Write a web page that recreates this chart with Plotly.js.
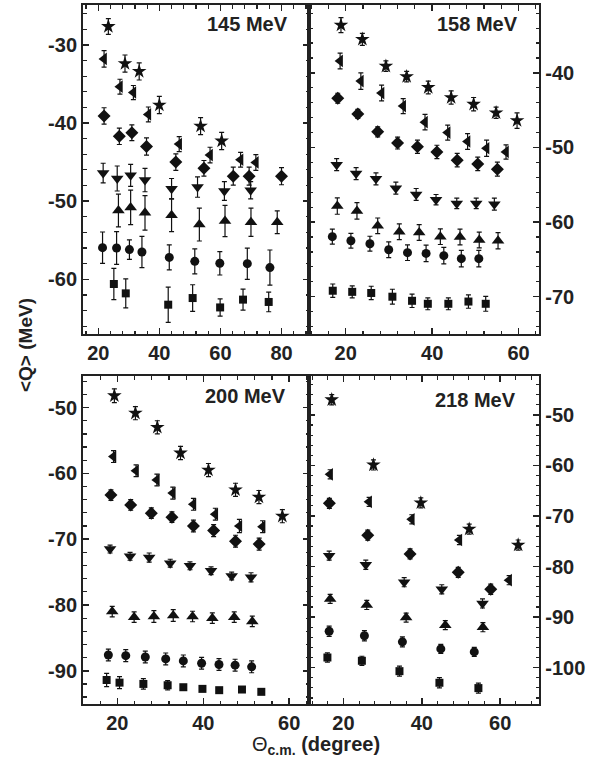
<!DOCTYPE html>
<html>
<head>
<meta charset="utf-8">
<script src="https://cdn.plot.ly/plotly-3.0.1.min.js"></script>
<style>html,body{margin:0;padding:0;background:#fff;}#chart{width:607px;height:762px;}</style>
</head>
<body>
<div id="chart"></div>
<script>
// ---------- 145 MeV ----------
const p145_star_x = [23.3, 28.75, 33.4, 40.0, 53.5, 60.4];
const p145_star_y = [-27.65, -32.4, -33.4, -37.7, -40.4, -42.3];
const p145_star_e = [1.0, 1.1, 1.1, 1.1, 1.1, 1.1];
const p145_ltri_x = [21.9, 27.1, 31.5, 36.4, 46.5, 56.6, 66.6, 71.6];
const p145_ltri_y = [-31.8, -35.35, -36.1, -38.9, -42.7, -44.1, -44.7, -45.05];
const p145_ltri_e = [1.05, 0.95, 0.9, 0.95, 0.95, 1.0, 0.95, 1.0];
const p145_diam_x = [21.9, 26.9, 31.0, 35.8, 45.4, 54.6, 64.2, 69.4, 80.0];
const p145_diam_y = [-39.1, -41.7, -41.25, -43.0, -45.0, -45.8, -46.8, -46.8, -46.8];
const p145_diam_e = [1.05, 1.05, 1.0, 1.1, 1.05, 1.0, 1.15, 1.15, 1.1];
const p145_dtri_x = [21.6, 26.2, 30.6, 35.3, 44.0, 52.5, 61.3, 69.9];
const p145_dtri_y = [-46.4, -47.1, -46.7, -47.3, -48.4, -48.2, -48.7, -48.6];
const p145_dtri_e = [1.25, 1.6, 1.4, 1.5, 1.3, 1.3, 1.2, 1.1];
const p145_utri_x = [26.6, 30.6, 35.3, 44.0, 53.1, 61.5, 70.0, 78.6];
const p145_utri_y = [-51.2, -50.8, -51.5, -51.8, -53.0, -52.55, -52.7, -52.7];
const p145_utri_e = [2.1, 2.2, 2.2, 2.1, 2.1, 2.0, 1.8, 1.45];
const p145_circ_x = [21.4, 26.0, 30.2, 34.3, 43.25, 51.6, 59.8, 68.8, 76.2];
const p145_circ_y = [-55.95, -56.0, -56.2, -56.5, -57.2, -57.7, -57.95, -58.0, -58.5];
const p145_circ_e = [2.0, 2.1, 1.25, 2.0, 1.6, 1.6, 1.5, 2.0, 2.25];
const p145_sqr_x = [25.1, 29.0, 42.9, 50.9, 59.9, 67.4, 75.8];
const p145_sqr_y = [-60.6, -61.8, -63.25, -62.4, -63.6, -62.6, -62.9];
const p145_sqr_e = [2.0, 1.85, 2.25, 1.7, 1.1, 1.35, 1.25];

// ---------- 158 MeV ----------
const p158_star_x = [18.9, 23.85, 29.3, 34.1, 39.1, 44.4, 49.6, 54.8, 59.65];
const p158_star_y = [-33.6, -35.5, -39.1, -40.5, -41.95, -43.3, -44.2, -45.35, -46.4];
const p158_star_e = [1.0, 0.8, 0.7, 0.7, 0.85, 0.9, 0.9, 0.75, 1.05];
const p158_ltri_x = [18.7, 23.5, 28.3, 33.3, 38.35, 43.6, 48.2, 52.6, 57.1];
const p158_ltri_y = [-38.4, -41.1, -42.7, -44.45, -46.6, -48.0, -49.2, -50.1, -50.6];
const p158_ltri_e = [1.05, 1.1, 1.05, 1.0, 1.05, 1.0, 1.05, 1.1, 0.95];
const p158_diam_x = [18.15, 22.8, 27.4, 32.0, 36.6, 41.1, 45.8, 50.55, 55.1];
const p158_diam_y = [-43.4, -45.5, -47.9, -49.4, -49.9, -50.6, -51.7, -52.2, -52.9];
const p158_diam_e = [0.67, 0.6, 0.67, 0.8, 0.9, 0.9, 0.9, 0.9, 0.95];
const p158_dtri_x = [17.9, 22.4, 27.0, 31.6, 36.3, 40.9, 45.7, 50.2, 54.4];
const p158_dtri_y = [-52.3, -53.5, -54.2, -55.45, -56.3, -57.0, -57.5, -57.5, -57.6];
const p158_dtri_e = [0.8, 0.8, 0.8, 0.8, 0.8, 0.7, 0.7, 0.7, 0.8];
const p158_utri_x = [18.05, 22.6, 27.4, 32.4, 37.0, 41.9, 46.45, 50.9, 55.25];
const p158_utri_y = [-57.85, -58.5, -60.5, -61.3, -61.4, -61.95, -62.0, -62.4, -62.5];
const p158_utri_e = [1.1, 1.1, 1.05, 1.05, 1.05, 1.05, 1.05, 1.05, 1.1];
const p158_circ_x = [16.9, 21.2, 25.6, 29.95, 34.3, 38.6, 42.7, 46.75, 50.8];
const p158_circ_y = [-61.95, -62.5, -62.9, -63.7, -64.1, -64.2, -64.5, -64.9, -64.9];
const p158_circ_e = [1.0, 1.0, 1.0, 1.05, 1.05, 1.1, 1.1, 1.1, 1.1];
const p158_sqr_x = [17.0, 21.5, 25.9, 30.8, 35.35, 39.0, 43.75, 48.4, 52.4];
const p158_sqr_y = [-69.2, -69.35, -69.5, -70.0, -70.55, -70.95, -70.95, -70.65, -70.95];
const p158_sqr_e = [0.9, 0.8, 0.9, 1.0, 0.9, 0.8, 0.8, 0.9, 1.0];

// ---------- 200 MeV ----------
const p200_star_x = [19.3, 24.2, 29.3, 34.7, 41.2, 47.5, 52.95, 58.4];
const p200_star_y = [-48.2, -50.85, -53.0, -56.9, -59.5, -62.5, -63.6, -66.5];
const p200_star_e = [1.05, 1.0, 1.0, 1.0, 1.0, 1.0, 1.0, 1.0];
const p200_ltri_x = [19.1, 24.35, 29.2, 32.9, 37.7, 42.8, 48.4, 53.8];
const p200_ltri_y = [-57.45, -59.6, -61.0, -63.0, -64.7, -66.2, -68.0, -68.1];
const p200_ltri_e = [0.9, 0.9, 0.9, 0.9, 0.9, 0.9, 1.0, 0.9];
const p200_diam_x = [18.5, 23.1, 27.9, 32.7, 37.7, 42.4, 47.5, 53.0];
const p200_diam_y = [-63.3, -64.8, -66.05, -66.65, -68.0, -68.7, -70.3, -70.75];
const p200_diam_e = [0.8, 0.8, 0.8, 0.8, 0.9, 0.9, 0.9, 0.9];
const p200_dtri_x = [18.3, 22.95, 27.4, 32.3, 36.9, 41.8, 46.6, 51.1];
const p200_dtri_y = [-71.5, -72.6, -72.8, -73.65, -74.05, -74.8, -75.6, -75.8];
const p200_dtri_e = [0.6, 0.6, 0.7, 0.6, 0.6, 0.6, 0.6, 0.7];
const p200_utri_x = [18.8, 23.9, 28.5, 33.0, 37.5, 42.1, 47.2, 51.4];
const p200_utri_y = [-81.0, -81.85, -81.75, -81.6, -81.75, -82.0, -81.85, -82.5];
const p200_utri_e = [0.8, 0.8, 0.9, 0.9, 0.8, 0.8, 0.8, 0.8];
const p200_circ_x = [17.9, 21.95, 26.5, 31.25, 35.35, 39.6, 43.65, 47.4, 51.25];
const p200_circ_y = [-87.6, -87.7, -87.9, -88.2, -88.5, -88.85, -89.05, -89.15, -89.4];
const p200_circ_e = [0.9, 0.9, 0.9, 0.9, 0.9, 0.9, 0.9, 0.9, 0.9];
const p200_sqr_x = [17.5, 20.5, 26.05, 31.7, 35.35, 39.8, 43.7, 49.0, 53.5];
const p200_sqr_y = [-91.4, -91.8, -92.0, -92.2, -92.5, -92.75, -92.95, -92.85, -93.2];
const p200_sqr_e = [1.0, 0.9, 0.8, 0.7, 0.4, 0.4, 0.3, 0.3, 0.3];

// ---------- 218 MeV ----------
const p218_star_x = [17.0, 27.65, 39.75, 52.1, 64.6];
const p218_star_y = [-47.0, -59.9, -67.4, -72.6, -75.75];
const p218_star_e = [1.0, 1.0, 1.0, 1.0, 1.0];
const p218_ltri_x = [16.6, 26.55, 37.45, 49.6, 62.3];
const p218_ltri_y = [-61.75, -67.2, -70.65, -74.75, -82.7];
const p218_ltri_e = [0.9, 0.9, 0.9, 0.9, 0.9];
const p218_diam_x = [16.4, 26.2, 37.0, 49.3, 57.6];
const p218_diam_y = [-67.5, -73.8, -77.5, -81.15, -84.5];
const p218_diam_e = [1.0, 1.0, 1.0, 1.0, 1.0];
const p218_dtri_x = [16.35, 25.7, 35.5, 45.1, 55.5];
const p218_dtri_y = [-77.85, -79.65, -83.1, -84.5, -87.3];
const p218_dtri_e = [0.9, 0.9, 0.9, 0.9, 0.9];
const p218_utri_x = [16.6, 25.95, 36.0, 46.0, 55.6];
const p218_utri_y = [-86.4, -87.6, -90.1, -91.6, -92.0];
const p218_utri_e = [0.9, 0.9, 0.9, 0.9, 0.9];
const p218_circ_x = [16.35, 25.35, 35.05, 44.85, 53.4];
const p218_circ_y = [-92.8, -93.7, -94.9, -96.3, -96.9];
const p218_circ_e = [1.0, 1.0, 1.0, 0.9, 0.9];
const p218_sqr_x = [15.9, 24.7, 34.3, 44.5, 54.45];
const p218_sqr_y = [-98.0, -98.65, -100.7, -103.0, -104.05];
const p218_sqr_e = [0.9, 0.9, 1.0, 1.0, 1.0];

// ---------- labels / ticks ----------
const panelLabels = ['145 MeV', '158 MeV', '200 MeV', '218 MeV'];
const x1Ticks = [20, 40, 60, 80];
const x1TickText = ['20', '40', '60', '80'];
const x2Ticks = [20, 40, 60];
const x2TickText = ['20', '40', '60'];
const y145Ticks = [-30, -40, -50, -60];
const y145TickText = ['-30', '-40', '-50', '-60'];
const y158Ticks = [-40, -50, -60, -70];
const y158TickText = ['-40', '-50', '-60', '-70'];
const y200Ticks = [-50, -60, -70, -80, -90];
const y200TickText = ['-50', '-60', '-70', '-80', '-90'];
const y218Ticks = [-50, -60, -70, -80, -90, -100];
const y218TickText = ['-50', '-60', '-70', '-80', '-90', '-100'];
const yTitle = '<Q> (MeV)';
const xTitleSym = 'Θ';
const xTitleSub = 'c.m.';
const xTitleRest = ' (degree)';

const symbols = ['star', 'triangle-left', 'diamond', 'triangle-down', 'triangle-up', 'circle', 'square'];
const sizes = [11, 11, 10, 11, 11, 9, 8];

const panels = [
  {ax: '', series: [[p145_star_x, p145_star_y, p145_star_e], [p145_ltri_x, p145_ltri_y, p145_ltri_e], [p145_diam_x, p145_diam_y, p145_diam_e], [p145_dtri_x, p145_dtri_y, p145_dtri_e], [p145_utri_x, p145_utri_y, p145_utri_e], [p145_circ_x, p145_circ_y, p145_circ_e], [p145_sqr_x, p145_sqr_y, p145_sqr_e]]},
  {ax: '2', series: [[p158_star_x, p158_star_y, p158_star_e], [p158_ltri_x, p158_ltri_y, p158_ltri_e], [p158_diam_x, p158_diam_y, p158_diam_e], [p158_dtri_x, p158_dtri_y, p158_dtri_e], [p158_utri_x, p158_utri_y, p158_utri_e], [p158_circ_x, p158_circ_y, p158_circ_e], [p158_sqr_x, p158_sqr_y, p158_sqr_e]]},
  {ax: '3', series: [[p200_star_x, p200_star_y, p200_star_e], [p200_ltri_x, p200_ltri_y, p200_ltri_e], [p200_diam_x, p200_diam_y, p200_diam_e], [p200_dtri_x, p200_dtri_y, p200_dtri_e], [p200_utri_x, p200_utri_y, p200_utri_e], [p200_circ_x, p200_circ_y, p200_circ_e], [p200_sqr_x, p200_sqr_y, p200_sqr_e]]},
  {ax: '4', series: [[p218_star_x, p218_star_y, p218_star_e], [p218_ltri_x, p218_ltri_y, p218_ltri_e], [p218_diam_x, p218_diam_y, p218_diam_e], [p218_dtri_x, p218_dtri_y, p218_dtri_e], [p218_utri_x, p218_utri_y, p218_utri_e], [p218_circ_x, p218_circ_y, p218_circ_e], [p218_sqr_x, p218_sqr_y, p218_sqr_e]]}
];

const traces = [];
panels.forEach(p => {
  p.series.forEach((s, i) => {
    traces.push({
      type: 'scatter', mode: 'markers',
      x: s[0], y: s[1],
      error_y: {type: 'data', array: s[2], visible: true, color: '#111', thickness: 1.2, width: 2.5},
      marker: {symbol: symbols[i], size: sizes[i], color: '#111', line: {width: 0}},
      xaxis: 'x' + p.ax, yaxis: 'y' + p.ax,
      showlegend: false, hoverinfo: 'skip'
    });
  });
});

const W = 607, H = 762;
const FONT = 'Liberation Sans, Arial, sans-serif';
const tickFont = {family: FONT, size: 20, color: '#222', weight: 'bold'};
const colL = [83 / W, 309 / W], colR = [309 / W, 539.3 / W];
const rowT = [1 - 334 / H, 1 - 5 / H], rowB = [1 - 704 / H, 1 - 376 / H];
const bold = arr => arr.map(t => '<b>' + t + '</b>');

function xax(domain, range, tv, tt, anchor) {
  return {domain, range, anchor, tickmode: 'array', tickvals: tv, ticktext: bold(tt), tickfont: tickFont,
    ticks: 'inside', ticklen: 6, tickwidth: 1.5, tickcolor: '#222', showline: true, linecolor: '#222', linewidth: 2,
    mirror: 'ticks', showgrid: false, zeroline: false,
    minor: {ticks: 'inside', ticklen: 3.5, tickwidth: 1.2, tickcolor: '#222', tickmode: 'linear', tick0: 0, dtick: 4, showgrid: false}};
}
function yax(domain, range, tv, tt, anchor, side) {
  return {domain, range, anchor, side, tickmode: 'array', tickvals: tv, ticktext: bold(tt), tickfont: tickFont,
    ticks: 'inside', ticklen: 6, tickwidth: 1.5, tickcolor: '#222', showline: true, linecolor: '#222', linewidth: 2,
    mirror: 'ticks', showgrid: false, zeroline: false,
    minor: {ticks: 'inside', ticklen: 3.5, tickwidth: 1.2, tickcolor: '#222', tickmode: 'linear', tick0: 0, dtick: 2, showgrid: false}};
}

const labelPos = [[290, 24], [520, 24], [288, 396], [518, 400]];
const annotations = panelLabels.map((t, i) => ({
  text: '<b>' + t + '</b>', xref: 'paper', yref: 'paper',
  x: labelPos[i][0] / W, y: 1 - labelPos[i][1] / H, xanchor: 'right', yanchor: 'middle',
  showarrow: false, font: {family: FONT, size: 20, color: '#222'}
}));
annotations.push({
  text: '<b>' + yTitle.replace('<', '&lt;').replace('>', '&gt;') + '</b>', xref: 'paper', yref: 'paper',
  x: 25 / W, y: 1 - 345 / H, xanchor: 'center', yanchor: 'middle', textangle: -90,
  showarrow: false, font: {family: FONT, size: 19, color: '#222'}
});
annotations.push({
  text: xTitleSym + '<sub><b>' + xTitleSub + '</b></sub><b>' + xTitleRest + '</b>', xref: 'paper', yref: 'paper',
  x: 316 / W, y: 1 - 745 / H, xanchor: 'center', yanchor: 'middle',
  showarrow: false, font: {family: FONT, size: 20, color: '#222'}
});

const layout = {
  width: W, height: H, margin: {l: 0, r: 0, t: 0, b: 0},
  paper_bgcolor: '#fff', plot_bgcolor: '#fff', showlegend: false,
  xaxis: xax(colL, [15, 89], x1Ticks, x1TickText, 'y'),
  yaxis: yax(rowT, [-67, -24.9], y145Ticks, y145TickText, 'x', 'left'),
  xaxis2: xax(colR, [11.5, 64.8], x2Ticks, x2TickText, 'y2'),
  yaxis2: yax(rowT, [-75, -30.9], y158Ticks, y158TickText, 'x2', 'right'),
  xaxis3: xax(colL, [12, 64.6], x2Ticks, x2TickText, 'y3'),
  yaxis3: yax(rowB, [-95.05, -45.2], y200Ticks, y200TickText, 'x3', 'left'),
  xaxis4: xax(colR, [11.2, 70], x2Ticks, x2TickText, 'y4'),
  yaxis4: yax(rowB, [-107.2, -42.3], y218Ticks, y218TickText, 'x4', 'right'),
  annotations
};

Plotly.newPlot('chart', traces, layout, {staticPlot: true, displayModeBar: false});
</script>
</body>
</html>
